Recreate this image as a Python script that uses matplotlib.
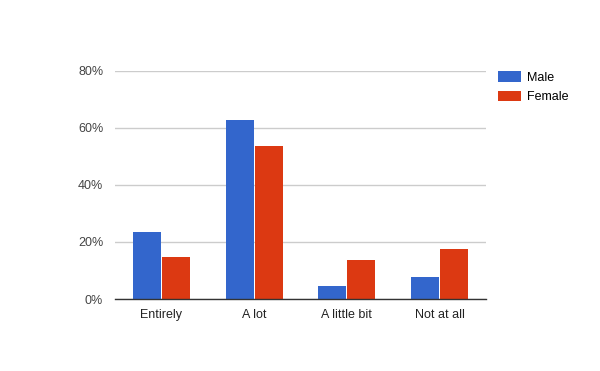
import matplotlib.pyplot as plt
import numpy as np

categories = ['Entirely', 'A lot', 'A little bit', 'Not at all']
male = [23.6, 62.9, 4.7, 7.8]
female = [14.8, 53.8, 13.8, 17.6]
yticks = [0, 20, 40, 60, 80]

plt.rcParams['font.family'] = ['Liberation Sans', 'DejaVu Sans']

fig = plt.figure(figsize=(6, 3.71), dpi=100)
ax = fig.add_axes([115 / 600, 72 / 371, 371 / 600, 228 / 371])

x = np.arange(len(categories))
w = 0.302
ax.bar(x - w / 2 - 0.005, male, width=w, color='#3366cc', label='Male', zorder=3)
ax.bar(x + w / 2 + 0.005, female, width=w, color='#dc3912', label='Female', zorder=3)

ax.set_xlim(-0.5, len(categories) - 0.5)
ax.set_ylim(0, 80)
ax.set_yticks(yticks)
ax.set_yticklabels([f'{t}%' for t in yticks], color='#444444', fontsize=9)
ax.set_xticks(x)
ax.set_xticklabels(categories, color='#222222', fontsize=9)
ax.tick_params(length=0)
ax.tick_params(axis='y', pad=8.5)
ax.tick_params(axis='x', pad=7)
ax.grid(axis='y', color='#cccccc', linewidth=1, zorder=0)
for s in ['top', 'right', 'left']:
    ax.spines[s].set_visible(False)
ax.spines['bottom'].set_color('#333333')
ax.spines['bottom'].set_linewidth(1)
ax.spines['bottom'].set_zorder(4)

fig.legend(loc='upper left', bbox_to_anchor=(493 / 600, 1 - 66 / 371), frameon=False,
           fontsize=9, handlelength=1.85, handleheight=0.95, handletextpad=0.5,
           labelspacing=0.55, borderaxespad=0)

fig.savefig('out.png', dpi=100)
